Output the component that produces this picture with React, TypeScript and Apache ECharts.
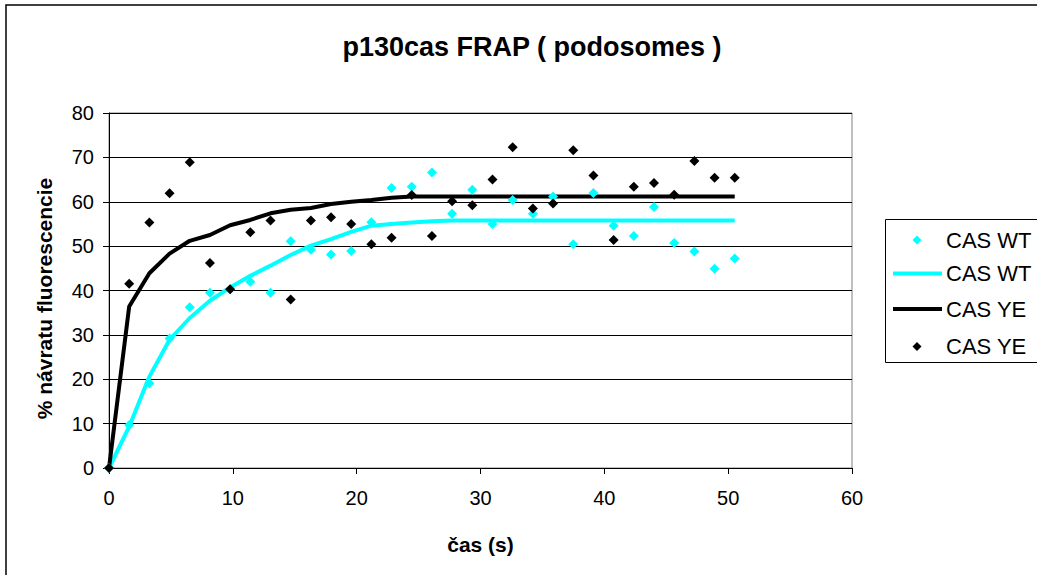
import React, { useEffect, useRef } from "react";
import * as echarts from "echarts";

const timeS = [0, 1.63, 3.26, 4.89, 6.52, 8.15, 9.78, 11.41, 13.04, 14.67, 16.3, 17.93, 19.56, 21.19, 22.82, 24.45, 26.08, 27.71, 29.34, 30.97, 32.6, 34.23, 35.86, 37.49, 39.12, 40.75, 42.38, 44.01, 45.64, 47.27, 48.9, 50.53];

const wtPoints = [0, 9.7, 19.1, 29.2, 36.2, 39.5, 40.3, 42.0, 39.5, 51.1, 49.2, 48.1, 48.9, 55.4, 63.1, 63.4, 66.6, 57.3, 62.7, 55.0, 60.4, 57.3, 61.2, 50.4, 62.0, 54.6, 52.3, 58.8, 50.7, 48.8, 44.9, 47.2];
const yePoints = [0, 41.5, 55.3, 61.9, 68.9, 46.2, 40.3, 53.1, 55.8, 38.0, 55.8, 56.5, 55.0, 50.4, 51.9, 61.5, 52.3, 60.1, 59.2, 65.0, 72.3, 58.5, 59.6, 71.6, 65.9, 51.4, 63.4, 64.2, 61.6, 69.2, 65.4, 65.4];
const wtFit = [0, 9.3, 20.6, 28.9, 33.8, 37.7, 40.7, 43.3, 45.6, 48.0, 50.1, 51.6, 53.2, 54.6, 55.0, 55.3, 55.6, 55.8, 55.8, 55.8, 55.8, 55.8, 55.8, 55.8, 55.8, 55.8, 55.8, 55.8, 55.8, 55.8, 55.8, 55.8];
const yeFit = [0, 36.4, 43.9, 48.3, 51.2, 52.5, 54.7, 55.9, 57.4, 58.2, 58.6, 59.5, 60.0, 60.4, 60.9, 61.2, 61.2, 61.2, 61.2, 61.2, 61.2, 61.2, 61.2, 61.2, 61.2, 61.2, 61.2, 61.2, 61.2, 61.2, 61.2, 61.2];

const xTicks = [0, 10, 20, 30, 40, 50, 60];
const yTicks = [0, 10, 20, 30, 40, 50, 60, 70, 80];

const legendItems = [
  { label: "CAS WT", kind: "point", color: "#00FFFF" },
  { label: "CAS WT", kind: "line", color: "#00FFFF" },
  { label: "CAS YE", kind: "line", color: "#000000" },
  { label: "CAS YE", kind: "point", color: "#000000" },
];

const FONT = "'Liberation Sans', Arial, sans-serif";

export default function App() {
  const ref = useRef<HTMLDivElement>(null);
  useEffect(() => {
    if (!ref.current) return;
    const chart = echarts.init(ref.current, null, { renderer: "svg" });
    const pair = (ys: number[]) => timeS.map((t, i) => [t, ys[i]]);

    const legendY = [240, 273.5, 309, 346.5];
    const legendGraphics: any[] = [
      {
        type: "rect",
        shape: { x: 885.5, y: 219.5, width: 170, height: 143 },
        style: { fill: "#fff", stroke: "#000", lineWidth: 1 },
        z: 10,
      },
    ];
    legendItems.forEach((it, i) => {
      const y = legendY[i];
      if (it.kind === "line") {
        legendGraphics.push({
          type: "line",
          shape: { x1: 893, y1: y, x2: 942, y2: y },
          style: { stroke: it.color, lineWidth: 4 },
          z: 11,
        });
      } else {
        legendGraphics.push({
          type: "polygon",
          shape: { points: [[917, y - 4.5], [921.5, y], [917, y + 4.5], [912.5, y]] },
          style: { fill: it.color },
          z: 11,
        });
      }
      legendGraphics.push({
        type: "text",
        x: 946,
        y: y,
        style: {
          text: it.label,
          font: `22px ${FONT}`,
          fill: "#000",
          textVerticalAlign: "middle",
          verticalAlign: "middle",
        },
        z: 11,
      });
    });

    chart.setOption({
      animation: false,
      backgroundColor: "#fff",
      title: {
        text: "p130cas FRAP ( podosomes )",
        left: 527,
        textAlign: "center",
        top: 28,
        textStyle: { fontFamily: FONT, fontSize: 27, fontWeight: "bold", color: "#000" },
      },
      grid: {
        left: 109,
        top: 113,
        right: 1037 - 852,
        bottom: 575 - 468,
        show: true,
        borderColor: "#808080",
        borderWidth: 1,
        backgroundColor: "#fff",
      },
      xAxis: {
        type: "value",
        min: xTicks[0],
        max: xTicks[xTicks.length - 1],
        interval: 10,
        name: "čas (s)",
        nameLocation: "middle",
        nameGap: 66,
        nameTextStyle: { fontFamily: FONT, fontSize: 21, fontWeight: "bold", color: "#000" },
        axisLine: { show: true, lineStyle: { color: "#000", width: 1 } },
        axisTick: { show: true, inside: false, length: 6, lineStyle: { color: "#000" } },
        axisLabel: { margin: 20, fontFamily: FONT, fontSize: 20, color: "#000" },
        splitLine: { show: false },
      },
      yAxis: {
        type: "value",
        min: yTicks[0],
        max: yTicks[yTicks.length - 1],
        interval: 10,
        name: "% návratu fluorescencie",
        nameLocation: "middle",
        nameGap: 54,
        nameRotate: 90,
        nameTextStyle: { fontFamily: FONT, fontSize: 21, fontWeight: "bold", color: "#000", padding: [0, 16, 0, 0] },
        axisLine: { show: true, lineStyle: { color: "#000", width: 1 } },
        axisTick: { show: true, inside: false, length: 6, lineStyle: { color: "#000" } },
        axisLabel: { margin: 15, fontFamily: FONT, fontSize: 20, color: "#000" },
        splitLine: { show: true, lineStyle: { color: "#000", width: 1 } },
      },
      series: [
        {
          name: "CAS WT fit",
          type: "line",
          data: pair(wtFit),
          showSymbol: false,
          symbol: "none",
          lineStyle: { color: "#00FFFF", width: 4 },
          z: 2,
        },
        {
          name: "CAS YE fit",
          type: "line",
          data: pair(yeFit),
          showSymbol: false,
          symbol: "none",
          lineStyle: { color: "#000", width: 4 },
          z: 3,
        },
        {
          name: "CAS WT",
          type: "scatter",
          data: pair(wtPoints),
          symbol: "diamond",
          symbolSize: 10,
          itemStyle: { color: "#00FFFF", opacity: 1 },
          z: 4,
        },
        {
          name: "CAS YE",
          type: "scatter",
          data: pair(yePoints),
          symbol: "diamond",
          symbolSize: 10,
          itemStyle: { color: "#000", opacity: 1 },
          z: 5,
        },
      ],
      graphic: [
        {
          type: "rect",
          shape: { x: 6, y: 5, width: 1200, height: 800 },
          style: { fill: "none", stroke: "#000", lineWidth: 1.5 },
          z: 1,
          silent: true,
        },
        ...legendGraphics,
      ],
    });
    return () => chart.dispose();
  }, []);
  return <div ref={ref} style={{ position: "absolute", left: 0, top: 0, width: 1037, height: 575 }} />;
}
